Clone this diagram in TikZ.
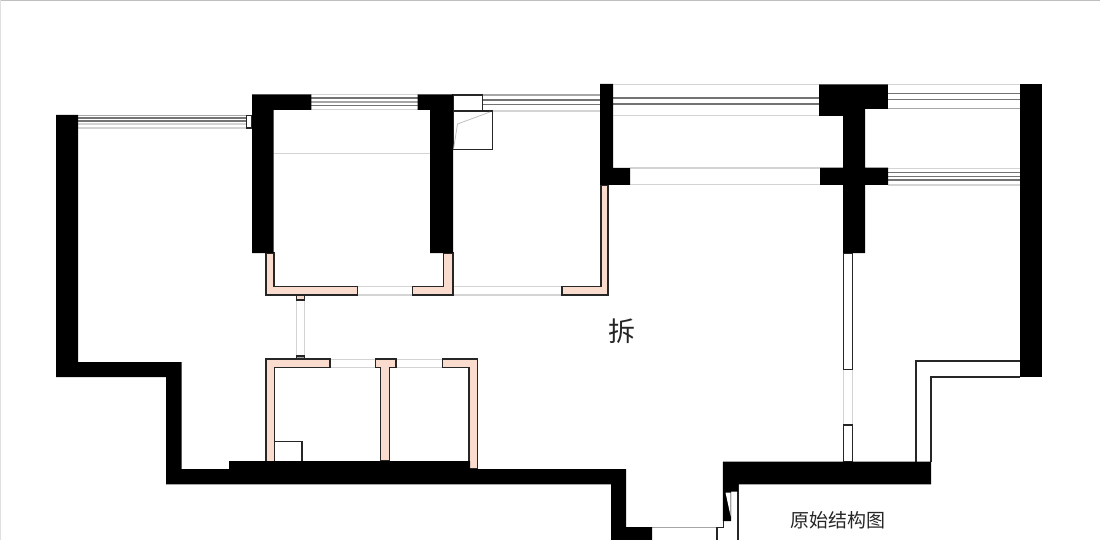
\documentclass[tikz,border=0pt]{standalone}
\usepackage{fontspec}
\newfontfamily\cjk{Noto Sans CJK SC}
\definecolor{wallpink}{HTML}{FADCCF}
\tikzset{
  wall/.style={fill=black,draw=none},
  pinkwall/.style={fill=wallpink,draw=black!85,line width=1.4pt,line join=miter},
  thin box/.style={fill=white,draw=black!85,line width=1.4pt},
  outline/.style={draw=black!85,line width=1.4pt},
  glassdark/.style={draw=black!55,line width=1.3pt},
  glassmid/.style={draw=black!35,line width=1.2pt},
  glasslight/.style={draw=black!17,line width=1.2pt},
  label text/.style={inner sep=0pt,text=black!85}
}
\begin{document}
\begin{tikzpicture}[x=1pt,y=-1pt]
\useasboundingbox (0,0) rectangle (1100,540);
\fill[white] (0,0) rectangle (1100,540);
\draw[black!25,line width=1pt] (0,0.5) -- (1100,0.5);
\draw[black!12,line width=1pt] (0.5,0) -- (0.5,540);

% window lines
\foreach \y/\s in {115.5/glassmid,118/glassdark,121/glassdark,124/glasslight,128/glasslight}
  \draw[\s] (78,\y) -- (246,\y);
\foreach \y/\s in {94.5/glasslight,98/glassdark,102/glassmid,105.3/glassdark,109.7/glasslight}
  \draw[\s] (311,\y) -- (418,\y);
\foreach \y/\s in {95/glassmid,100/glassdark,104.5/glassdark,111/glasslight}
  \draw[\s] (482,\y) -- (600,\y);
\foreach \y/\s in {84.5/glasslight,98/glassdark,104/glassdark,115.5/glasslight}
  \draw[\s] (613,\y) -- (819,\y);
\foreach \y/\s in {84.5/glasslight,93.5/glassdark,99.5/glassdark,108.5/glassmid}
  \draw[\s] (888,\y) -- (1020,\y);
\foreach \y/\s in {168.5/glasslight,172.5/glassdark,176.5/glassdark,180/glassdark,185/glasslight}
  \draw[\s] (888,\y) -- (1020,\y);
\foreach \y in {168,184.5}
  \draw[glasslight] (630,\y) -- (820,\y);
\draw[glasslight] (274,153.3) -- (430,153.3);
\foreach \y in {286.7,295} {
  \draw[glasslight] (357,\y) -- (413,\y);
  \draw[glasslight] (453,\y) -- (562,\y);
}
\foreach \y in {359.3,367.5} {
  \draw[glasslight] (330,\y) -- (375,\y);
  \draw[glasslight] (396,\y) -- (442,\y);
}
\foreach \x in {296.3,304.7}
  \draw[glasslight] (\x,300) -- (\x,356);
\foreach \x in {843.5,852.3}
  \draw[glasslight] (\x,369) -- (\x,425);
\draw[glassmid] (652,527.3) -- (717,527.3);

% pink walls
\draw[pinkwall] (266,253) -- (274,253) -- (274,286.7) -- (357.3,286.7) -- (357.3,295) -- (266,295) -- cycle;
\draw[pinkwall] (443.3,253) -- (452.8,253) -- (452.8,295) -- (412.5,295) -- (412.5,286.7) -- (443.3,286.7) -- cycle;
\draw[pinkwall] (600.8,185) -- (608,185) -- (608,295) -- (562,295) -- (562,286.7) -- (600.8,286.7) -- cycle;
\draw[pinkwall] (296.3,295) rectangle (304.7,300);
\draw[pinkwall,fill=black!35] (296.3,356) rectangle (304.7,359);
\draw[pinkwall] (266,461) -- (266,359) -- (330,359) -- (330,367.7) -- (274.3,367.7) -- (274.3,461);
\draw[pinkwall] (375.3,359) -- (396,359) -- (396,367.7) -- (389.7,367.7) -- (389.7,461) -- (380.3,461) -- (380.3,367.7) -- (375.3,367.7) -- cycle;
\draw[pinkwall] (442.3,359) -- (477.7,359) -- (477.7,469) -- (469,469) -- (469,367.7) -- (442.3,367.7) -- cycle;

% white boxes
\draw[thin box] (274.3,441.3) -- (302,441.3) -- (302,461);
\draw[thin box] (246.3,115.3) rectangle (252,128);
\draw[thin box] (453,95) rectangle (482.5,111);
\draw[thin box] (453,111) rectangle (492.5,149.5);
\draw[draw=black!25,line width=0.8pt] (453.5,149) -- (457.5,124) -- (490,112);
\draw[thin box] (843.5,253) rectangle (852.3,369.3);
\draw[thin box] (843.5,425) rectangle (852.3,462);
\draw[outline] (916,462) -- (916,360.8) -- (1020,360.8);
\draw[outline] (931,462) -- (931,376.8) -- (1020,376.8);
\draw[outline] (738,484) -- (738,540);
\draw[outline] (716.8,540) -- (716.8,527.3) -- (723.3,527.3) -- (723.3,521);

% black walls
\fill[wall] (56,115) -- (78,115) -- (78,362) -- (181.5,362) -- (181.5,469) -- (229,469) -- (229,461) -- (470,461) -- (470,469) -- (626,469) -- (626,527) -- (652,527) -- (652,540) -- (611,540) -- (611,484.3) -- (166,484.3) -- (166,377) -- (56,377) -- cycle;
\fill[wall] (252,94.3) -- (311.3,94.3) -- (311.3,110) -- (273.7,110) -- (273.7,253) -- (252,253) -- cycle;
\fill[wall] (417.7,94.3) -- (453.2,94.3) -- (453.2,253) -- (430,253) -- (430,110) -- (417.7,110) -- cycle;
\fill[wall] (600,84) -- (613,84) -- (613,168) -- (630,168) -- (630,185) -- (600,185) -- cycle;
\fill[wall] (819,84.3) -- (887.8,84.3) -- (887.8,109) -- (865.2,109) -- (865.2,167.7) -- (888,167.7) -- (888,185) -- (865.2,185) -- (865.2,253) -- (843,253) -- (843,185) -- (820,185) -- (820,167.7) -- (843,167.7) -- (843,116) -- (819,116) -- cycle;
\fill[wall] (1020,84) rectangle (1042,377);
\fill[wall] (722.8,461.7) -- (931,461.7) -- (931,484.3) -- (738,484.3) -- (738,491.7) -- (731,491.7) -- (731,521) -- (722.8,521) -- cycle;
\fill[white] (725.5,492.5) -- (730.7,492.5) -- (730.7,516.5) -- cycle;

% labels
\node[label text,font=\cjk\fontsize{27pt}{27pt}\selectfont] (chai) at (622,331) {拆};
\node[label text,font=\cjk\fontsize{19pt}{19pt}\selectfont] (title) at (838,520) {原始结构图};
\end{tikzpicture}
\end{document}
